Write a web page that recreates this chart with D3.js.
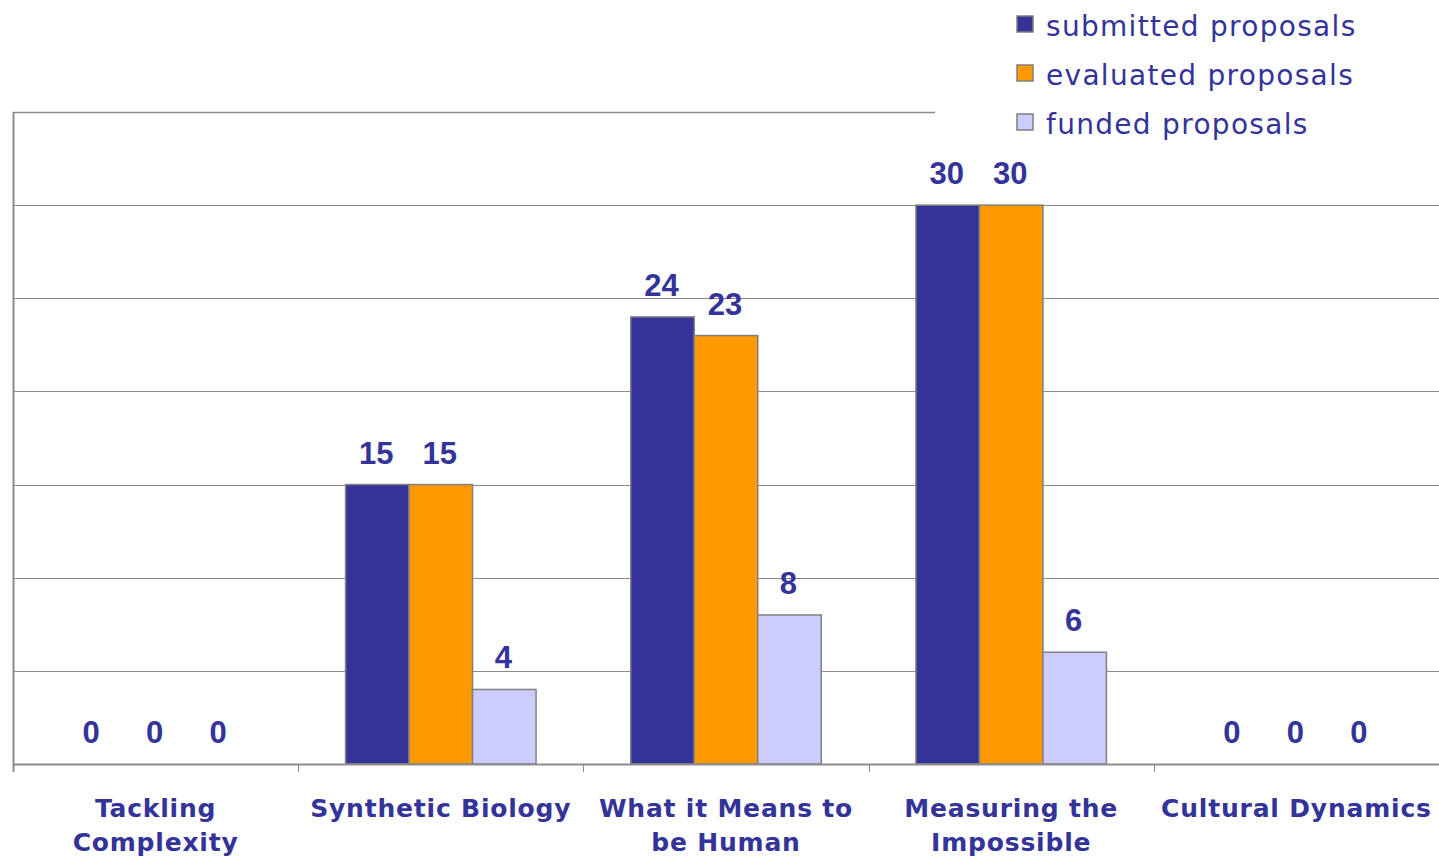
<!DOCTYPE html>
<html>
<head>
<meta charset="utf-8">
<script src="https://cdn.jsdelivr.net/npm/d3@7"></script>
<style>
  body { margin: 0; background: #fff; }
</style>
</head>
<body>
<script>
// chart data
var categories = [
    ["Tackling", "Complexity"],
    ["Synthetic Biology"],
    ["What it Means to", "be Human"],
    ["Measuring the", "Impossible"],
    ["Cultural Dynamics"]
];
var seriesNames = ["submitted proposals", "evaluated proposals", "funded proposals"];
var submitted = [0, 15, 24, 30, 0];
var evaluated = [0, 15, 23, 30, 0];
var funded = [0, 4, 8, 6, 0];
var gridTicks = [0, 5, 10, 15, 20, 25, 30];

var colors = ["#333399", "#FF9900", "#CCCCFF"];
var textColor = "#333399";

window.onload = function(){
    var w = 1439, h = 858;
    var left = 13, right = 1439, top = 112, bottom = 764;

    var svg = d3.select("body").append("svg")
        .attr("width", w)
        .attr("height", h);

    var series = [submitted, evaluated, funded];
    var idx = d3.range(categories.length);

    var x = d3.scaleBand()
        .domain(idx)
        .range([left, right])
        .paddingInner(0)
        .paddingOuter(0);

    var bandW = x.bandwidth();
    var groupPad = bandW * 0.166;

    var x1 = d3.scaleBand()
        .domain([0, 1, 2])
        .range([groupPad, bandW - groupPad]);

    var y = d3.scaleLinear()
        .domain([0, 35])
        .range([bottom, top]);

    //gridlines
    svg.append("g").selectAll("line")
        .data(gridTicks)
        .enter()
        .append("line")
        .attr("x1", left)
        .attr("x2", right)
        .attr("y1", function(d){ return Math.round(y(d)) + 0.5; })
        .attr("y2", function(d){ return Math.round(y(d)) + 0.5; })
        .style("stroke", "#8c8c8c")
        .style("stroke-width", 1);

    //top border
    svg.append("line")
        .attr("x1", left).attr("x2", right)
        .attr("y1", Math.round(y(35)) + 0.5).attr("y2", Math.round(y(35)) + 0.5)
        .style("stroke", "#8c8c8c")
        .style("stroke-width", 1.5);

    //legend background covers top border
    svg.append("rect")
        .attr("x", 935).attr("y", 0)
        .attr("width", w - 935).attr("height", 145)
        .style("fill", "#fff");

    //bars
    var groups = svg.append("g").selectAll("g")
        .data(idx)
        .enter()
        .append("g")
        .attr("transform", function(i){ return "translate(" + x(i) + ",0)"; });

    groups.selectAll("rect")
        .data(function(i){ return series.map(function(s, k){ return {k: k, v: s[i]}; }); })
        .enter()
        .filter(function(d){ return d.v > 0; })
        .append("rect")
        .attr("x", function(d){ return x1(d.k); })
        .attr("y", function(d){ return y(d.v); })
        .attr("width", x1.bandwidth())
        .attr("height", function(d){ return y(0) - y(d.v); })
        .style("fill", function(d){ return colors[d.k]; })
        .style("stroke", "#808080")
        .style("stroke-width", 1.5);

    groups.selectAll("text")
        .data(function(i){ return series.map(function(s, k){ return {k: k, v: s[i]}; }); })
        .enter()
        .append("text")
        .attr("x", function(d){ return x1(d.k) + x1.bandwidth() / 2 - 1; })
        .attr("y", function(d){ return y(d.v) - 21; })
        .attr("text-anchor", "middle")
        .style("font-family", "'Liberation Sans', Arial, sans-serif")
        .style("font-weight", "bold")
        .style("font-size", "31px")
        .style("fill", textColor)
        .text(function(d){ return d.v; });

    //axes
    svg.append("line")
        .attr("x1", left + 0.5).attr("x2", left + 0.5)
        .attr("y1", top).attr("y2", bottom + 8)
        .style("stroke", "#8c8c8c").style("stroke-width", 2);

    svg.append("line")
        .attr("x1", left).attr("x2", right)
        .attr("y1", bottom + 0.5).attr("y2", bottom + 0.5)
        .style("stroke", "#8c8c8c").style("stroke-width", 2);

    svg.append("g").selectAll("line")
        .data(idx.slice(1))
        .enter()
        .append("line")
        .attr("x1", function(i){ return Math.round(x(i)) + 0.5; })
        .attr("x2", function(i){ return Math.round(x(i)) + 0.5; })
        .attr("y1", bottom)
        .attr("y2", bottom + 8)
        .style("stroke", "#8c8c8c");

    //category labels
    var labels = svg.append("g").selectAll("text")
        .data(idx)
        .enter()
        .append("text")
        .attr("text-anchor", "middle")
        .style("font-family", "'DejaVu Sans', Verdana, sans-serif")
        .style("font-weight", "bold")
        .style("font-size", "25px")
        .style("letter-spacing", "0.8px")
        .style("fill", textColor);

    labels.selectAll("tspan")
        .data(function(i){ return categories[i].map(function(t){ return {t: t, i: i}; }); })
        .enter()
        .append("tspan")
        .attr("x", function(d){ return x(d.i) + bandW / 2; })
        .attr("y", function(d, j){ return 817 + j * 34; })
        .text(function(d){ return d.t; });

    //legend
    var legend = svg.append("g").selectAll("g")
        .data(seriesNames)
        .enter()
        .append("g")
        .attr("transform", function(d, i){ return "translate(1017," + (16 + i * 49) + ")"; });

    legend.append("rect")
        .attr("width", 16).attr("height", 16)
        .style("fill", function(d, i){ return colors[i]; })
        .style("stroke", "#808080")
        .style("stroke-width", 1.5);

    legend.append("text")
        .attr("x", 29)
        .attr("y", 20)
        .style("font-family", "'DejaVu Sans', Verdana, sans-serif")
        .style("font-size", "28px")
        .style("letter-spacing", "1.3px")
        .style("fill", textColor)
        .text(function(d){ return d; });
};
</script>
</body>
</html>
